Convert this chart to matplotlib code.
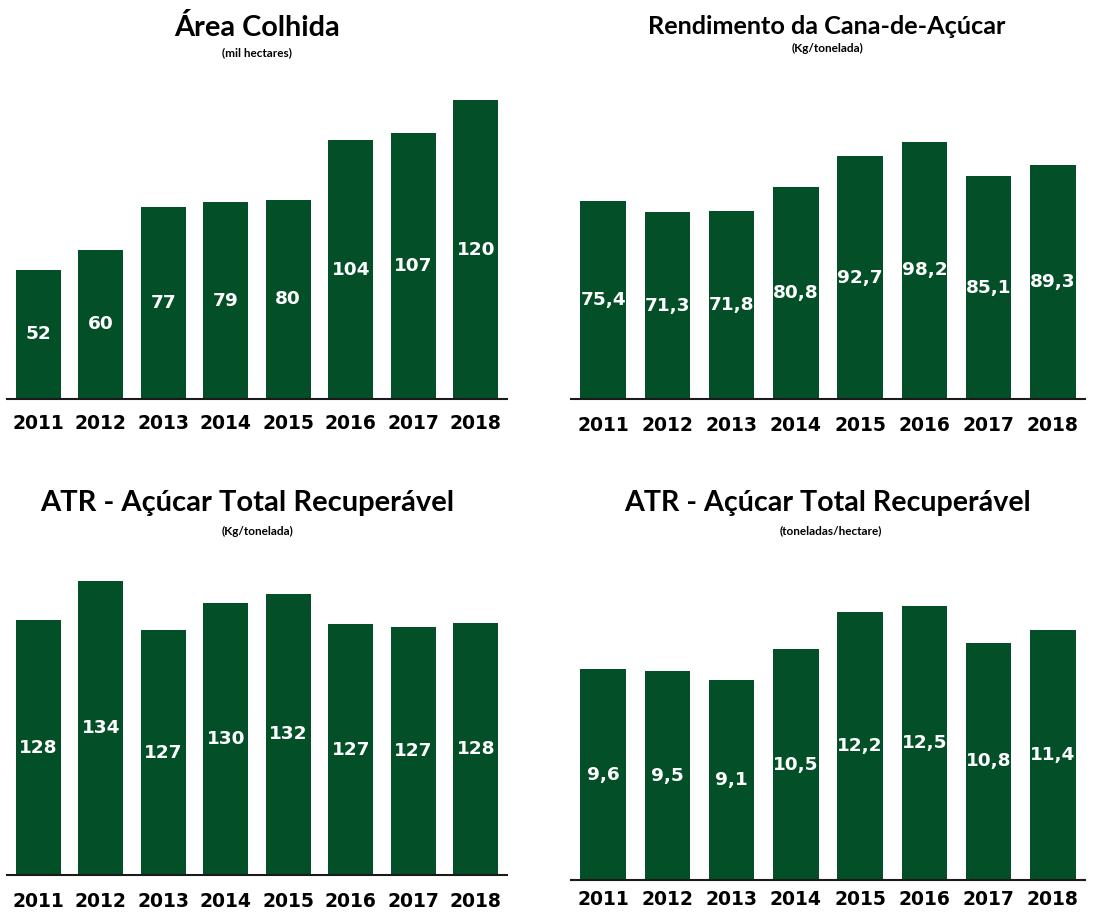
import matplotlib
matplotlib.use("Agg")
import matplotlib.pyplot as plt

years = ["2011", "2012", "2013", "2014", "2015", "2016", "2017", "2018"]

area_colhida = [52, 60, 77, 79, 80, 104, 107, 120]
rendimento = [75.4, 71.3, 71.8, 80.8, 92.7, 98.2, 85.1, 89.3]
atr_kg_ton = [128.0, 133.6, 126.6, 130.4, 131.8, 127.4, 127.0, 127.6]
atr_ton_ha = [9.6, 9.5, 9.1, 10.5, 12.2, 12.5, 10.8, 11.4]

titles = ["Área Colhida", "Rendimento da Cana-de-Açúcar",
          "ATR - Açúcar Total Recuperável", "ATR - Açúcar Total Recuperável"]
subtitles = ["(mil hectares)", "(Kg/tonelada)", "(Kg/tonelada)", "(toneladas/hectare)"]

GREEN = "#034f28"
W, H = 1094, 913
fig = plt.figure(figsize=(W / 100, H / 100), dpi=100)


def px_axes(x0, x1, ytop, ybase):
    return fig.add_axes([x0 / W, (H - ybase) / H, (x1 - x0) / W, (ybase - ytop) / H])


def fmt_int(v):
    return f"{v:.0f}"


def fmt_dec(v):
    return f"{v:.1f}".replace(".", ",")


panels = [
    dict(vals=area_colhida, box=(7, 507, 90, 399), ylim=(0, 309 / 2.49), fmt=fmt_int, bw=0.72,
         title_xy=(257, 28), title_fs=20.8, sub_xy=(257, 53), pad=11),
    dict(vals=rendimento, box=(571, 1085, 100, 399), ylim=(0, 299 / 2.62), fmt=fmt_dec, bw=0.71,
         title_xy=(827, 26), title_fs=18.2, sub_xy=(827, 48), pad=12),
    dict(vals=atr_kg_ton, box=(7, 507, 565, 875), ylim=(91.6, 91.6 + 310 / 7.0), fmt=fmt_int, bw=0.72,
         title_xy=(247, 503), title_fs=21, sub_xy=(257, 531), pad=12),
    dict(vals=atr_ton_ha, box=(571, 1085, 590, 880), ylim=(0, 290 / 21.96), fmt=fmt_dec, bw=0.71,
         title_xy=(827, 503), title_fs=20.6, sub_xy=(831, 531), pad=7),
]

for p, title, sub in zip(panels, titles, subtitles):
    ax = px_axes(*p["box"])
    base = p["ylim"][0]
    x = range(len(years))
    heights = [v - base for v in p["vals"]]
    ax.bar(x, heights, bottom=base, width=p["bw"], color=GREEN, edgecolor="none")
    ax.set_xlim(-0.5, len(years) - 0.5)
    ax.set_ylim(*p["ylim"])
    for xi, v in zip(x, p["vals"]):
        ax.text(xi, (base + v) / 2, p["fmt"](v), ha="center", va="center",
                color="white", fontsize=13.3, fontweight="bold", family="DejaVu Sans")
    ax.set_xticks(list(x))
    ax.set_xticklabels(years, fontsize=13.5, fontweight="bold", family="DejaVu Sans")
    ax.tick_params(axis="x", length=0, pad=p["pad"])
    ax.set_yticks([])
    for s in ["top", "left", "right"]:
        ax.spines[s].set_visible(False)
    ax.spines["bottom"].set_color("#1a1a1a")
    ax.spines["bottom"].set_linewidth(1.5)
    ax.patch.set_alpha(0)

    fig.text(p["title_xy"][0] / W, 1 - p["title_xy"][1] / H, title, ha="center", va="center",
             fontsize=p["title_fs"], fontweight="bold", family="Lato")
    fig.text(p["sub_xy"][0] / W, 1 - p["sub_xy"][1] / H, sub, ha="center", va="center",
             fontsize=8.5, fontweight="bold", family="Lato")

fig.savefig("out.png", dpi=100)
